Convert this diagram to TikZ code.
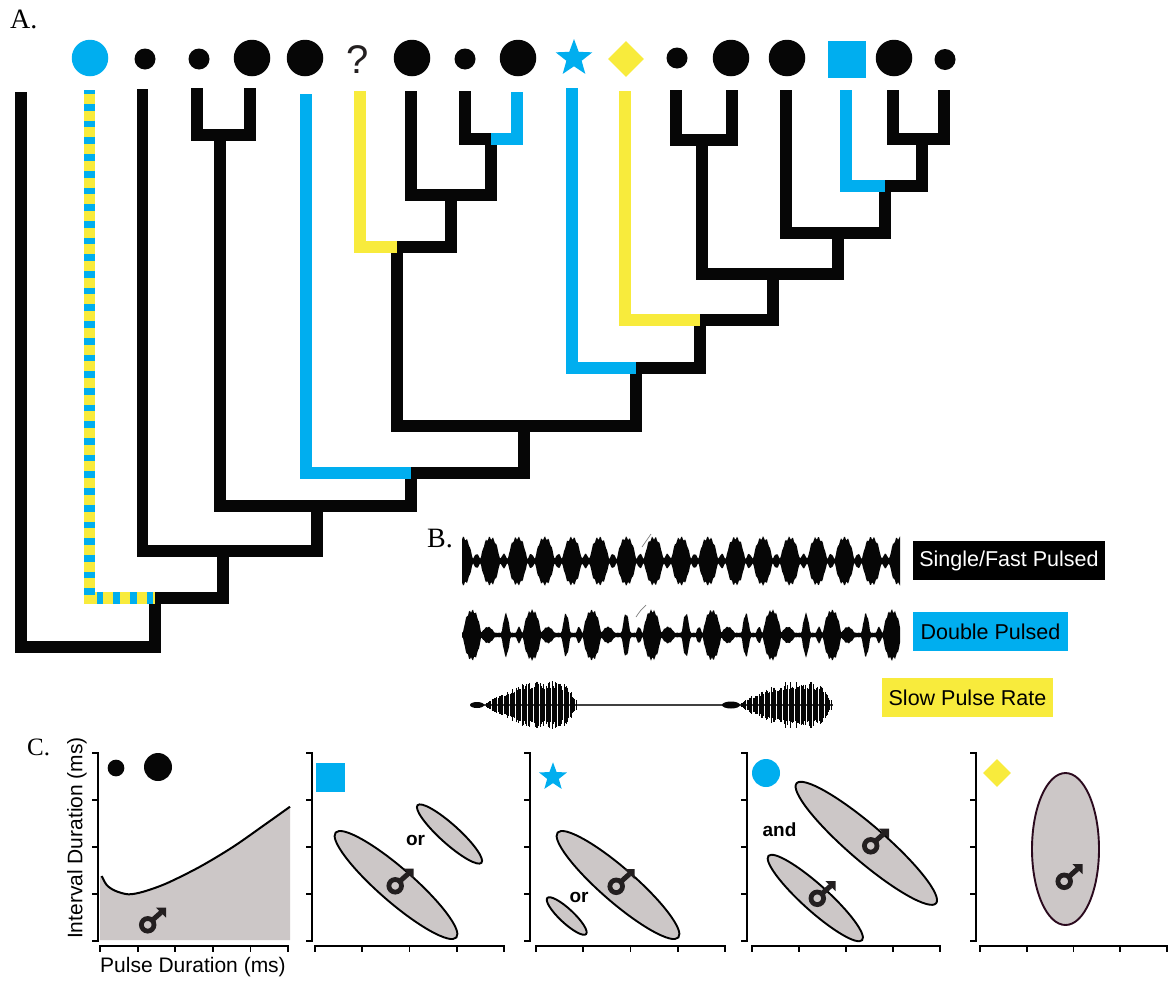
\documentclass[tikz,border=0pt]{standalone}
\usepackage{fontspec}
\setmainfont{Liberation Sans}
\newfontfamily\serifA{Liberation Serif}
\usetikzlibrary{shapes.geometric}
\definecolor{cb}{HTML}{00AEEF}
\definecolor{cy}{HTML}{F8EB3C}
\definecolor{cg}{HTML}{CCC7C7}
\definecolor{ck}{HTML}{060606}
\definecolor{cmale}{HTML}{231F20}
\definecolor{co}{HTML}{2B0A1E}
\newcommand\paxes[4]{%
  \draw[ax] (#1,753) -- (#1,941);
  \foreach \k in {0,...,4} \draw[ax] (#1,753+47*\k) -- ++(-5,0);
  \draw[ax] (#2,946) -- (#3,946);
  \foreach \k in {0,...,#4} \draw[ax] ({#2+(#3-#2)*\k/#4},946) -- ++(0,5);
}
\begin{document}
\begin{tikzpicture}[x=1pt,y=-1pt,
  br/.style={line width=11.5pt, draw=ck},
  ax/.style={line width=1.8pt, line cap=rect, draw=black},
  sdot/.style={circle, fill=ck, inner sep=0pt, minimum size=21pt},
  bdot/.style={circle, fill=ck, inner sep=0pt, minimum size=36.5pt},
  ell/.style={ellipse, draw=black, fill=cg, line width=1.9pt, inner sep=0pt},
  malesym/.pic={
    \draw[draw=cmale, line width=4.8pt] (-5.3,4.8) circle[radius=6.3pt];
    \draw[draw=cmale, line width=5pt] (-1,0.5) -- (8,-7.5);
    \fill[fill=cmale] (13,-12.5) -- (2.8,-12.5) -- (13,-2.3) -- cycle;
  },
  wlab/.style={font=\fontsize{21.5}{24}\selectfont, inner sep=0pt, minimum height=39pt},
  plab/.style={font=\serifA\fontsize{28}{30}\selectfont, inner sep=0pt, anchor=base west},
  bold/.style={font=\bfseries\fontsize{19}{22}\selectfont, inner sep=0pt, anchor=base},
  declare function={
    wpa(\x)=mod(\x-435.75,27.25);
    wda(\x)=min(wpa(\x),27.25-wpa(\x));
    wca(\x)=cos(min(wda(\x),10)*9);
    wea(\x)=max(23*(1.5*wca(\x)-0.5*wca(\x)*wca(\x)), 7*cos(min(abs(wda(\x)-13.6),4)*22.5), 2.5)*(1+0.08*sin(mod(\x,3.7)*97.3));
    wpb(\x)=mod(\x-412,60);
    wcb(\x)=cos(min(min(wpb(\x),60-wpb(\x)),9.5)*9.474);
    web(\x)=max(24*(1.5*wcb(\x)-0.5*wcb(\x)*wcb(\x)), 8*cos(min(abs(wpb(\x)-16),8)*11.25), 21*cos(min(abs(wpb(\x)-34),4.6)*19.565), 8*cos(min(abs(wpb(\x)-47),3.5)*25.714), 2.2)*(1+0.08*sin(mod(\x,3.3)*109.1));
  }]
\fill[white] (0,0) rectangle (1173,983);
\useasboundingbox (0,0) rectangle (1173,983);

% ---------- panel labels
\node[plab] (lA) at (10,28) {A.};
\node[plab] (lB) at (427,547) {B.};
\node[plab, font=\serifA\fontsize{25}{27}\selectfont] (lC) at (27,755) {C.};

% ---------- tree coordinates
\coordinate (t0) at (21,92);
\coordinate (t1) at (89.5,90);
\coordinate (t2) at (142.5,89);
\coordinate (t3) at (197,88);
\coordinate (t4) at (250,88);
\coordinate (t5) at (306,94);
\coordinate (t6) at (360,91);
\coordinate (t7) at (411,91);
\coordinate (t8) at (465,91);
\coordinate (t9) at (517,92);
\coordinate (t10) at (572,88);
\coordinate (t11) at (625,91);
\coordinate (t12) at (676,90);
\coordinate (t13) at (732,90);
\coordinate (t14) at (786,90);
\coordinate (t15) at (846,90);
\coordinate (t16) at (893,90);
\coordinate (t17) at (944,90);
\coordinate (na) at (220,135);
\coordinate (nb) at (491,139);
\coordinate (nc) at (451,195);
\coordinate (nd) at (397,247);
\coordinate (ne) at (702,140);
\coordinate (nf) at (922,139);
\coordinate (ng) at (885,186);
\coordinate (nh) at (838,233);
\coordinate (ni) at (773,274);
\coordinate (nj) at (700,320);
\coordinate (nk) at (636,368);
\coordinate (nl) at (524,426);
\coordinate (nm) at (411,473);
\coordinate (nn) at (317,506);
\coordinate (no) at (223,551);
\coordinate (np) at (155,598);
\coordinate (nr) at (155,647);

% black branches
\draw[br] (t0) |- (nr);
\draw[br, line cap=rect] (np) -- (nr);
\draw[br] (t2) |- (no);
\draw[br] (nn) |- (no);
\draw[br] (no) |- (np);
\draw[br] (na) |- (nn);
\draw[br] (nm) |- (nn);
\draw[br] (t3) |- (na);
\draw[br] (t4) |- (na);
\draw[br] (nl) |- (nm);
\draw[br] (nd) |- (nl);
\draw[br] (nk) |- (nl);
\draw[br] (nc) |- (nd);
\draw[br] (t7) |- (nc);
\draw[br] (nb) |- (nc);
\draw[br] (t8) |- (nb);
\draw[br] (nj) |- (nk);
\draw[br] (ni) |- (nj);
\draw[br] (ne) |- (ni);
\draw[br] (nh) |- (ni);
\draw[br] (t12) |- (ne);
\draw[br] (t13) |- (ne);
\draw[br] (t14) |- (nh);
\draw[br] (ng) |- (nh);
\draw[br] (nf) |- (ng);
\draw[br] (t16) |- (nf);
\draw[br] (t17) |- (nf);
% coloured branches
\draw[br, draw=cb] (t5) |- (nm);
\draw[br, draw=cb] (t9) |- (nb);
\draw[br, draw=cb] (t10) |- (nk);
\draw[br, draw=cb] (t15) |- (ng);
\draw[br, draw=cy] (t6) |- (nd);
\draw[br, draw=cy] (t11) |- (nj);
\draw[br, draw=cy] (t1) |- (np);
\draw[br, draw=cb, dash pattern=on 6.7pt off 10pt, dash phase=2.7pt] (t1) |- (np);

% tip symbols
\node[circle, fill=cb, inner sep=0pt, minimum size=36.5pt] (s1) at (90,58) {};
\node[sdot] (s2) at (145,59) {};
\node[sdot] (s3) at (199,59) {};
\node[bdot] (s4) at (252,58) {};
\node[bdot] (s5) at (305,58) {};
\node[font=\fontsize{40}{40}\selectfont, text=cmale, inner sep=0pt, anchor=base] (s6) at (358,73) {?};
\node[bdot] (s7) at (412,58) {};
\node[sdot] (s8) at (465,59) {};
\node[bdot] (s9) at (518,58) {};
\node[star, star points=5, star point ratio=2.4, fill=cb, inner sep=0pt, minimum size=38.5pt] (s10) at (574,58.3) {};
\node[diamond, fill=cy, inner sep=0pt, minimum width=36pt, minimum height=36pt] (s11) at (626,59) {};
\node[sdot] (s12) at (677,58) {};
\node[bdot] (s13) at (731,58) {};
\node[bdot] (s14) at (787,58) {};
\node[rectangle, fill=cb, inner sep=0pt, minimum width=38pt, minimum height=37pt] (s15) at (847,59.5) {};
\node[bdot] (s16) at (894,58) {};
\node[sdot] (s17) at (945,59.5) {};

% ---------- panel B waveforms
\fill[ck] plot[domain=462:900, samples=439] (\x,{561-wea(\x)}) -- plot[domain=900:462, samples=439] (\x,{561+wea(\x)}) -- cycle;
\fill[ck] plot[domain=462:900, samples=439] (\x,{635-web(\x)}) -- plot[domain=900:462, samples=439] (\x,{635+web(\x)}) -- cycle;
\draw[gray, line width=0.7pt] (642,547) .. controls (646,541) .. (651,534);
\draw[gray, line width=0.7pt] (636,617) .. controls (640,611) .. (646,605);
\draw[line width=1.6pt, draw=gray!50!black] (476,705) -- (833,705);
\fill[ck] (477,705) ellipse [x radius=7pt, y radius=3pt];
\fill[ck] (731,705) ellipse [x radius=9pt, y radius=3.5pt];
\pgfmathsetseed{7}
\foreach \x in {486,487.2,...,577} {
  \pgfmathsetmacro\u{\x-486}
  \pgfmathsetmacro\h{(\u<72 ? 22*sin(min(\u/55,1)*90) : 22*cos(min((\u-72)/20,1)*90))*(0.6+0.4*rnd)+2}
  \draw[line width=1pt, ck] (\x,705-\h) -- (\x,705+\h);
}
\foreach \x in {741,742.2,...,832} {
  \pgfmathsetmacro\u{\x-741}
  \pgfmathsetmacro\h{(\u<72 ? 22*sin(min(\u/55,1)*90) : 22*cos(min((\u-72)/20,1)*90))*(0.6+0.4*rnd)+2}
  \draw[line width=1pt, ck] (\x,705-\h) -- (\x,705+\h);
}
\node[wlab, fill=black, text=white, minimum width=192pt] (bl1) at (1009,560.5) {Single/Fast Pulsed};
\node[wlab, fill=cb, text=black, minimum width=155pt] (bl2) at (990.5,631.5) {Double Pulsed};
\node[wlab, fill=cy, text=black, minimum width=171pt] (bl3) at (967.5,697.5) {Slow Pulse Rate};

% ---------- panel C
% plot 1
\fill[cg] (100,940) -- (100,876) -- plot[smooth] coordinates {(101.7,876) (106.7,885) (115,890.7) (128.3,894.3) (143.3,891.7) (166.7,883.3) (200,866.7) (233.3,846.7) (266.7,823.3) (290,806.7)} -- (290,940) -- cycle;
\draw[line width=2pt] plot[smooth] coordinates {(101.7,876) (106.7,885) (115,890.7) (128.3,894.3) (143.3,891.7) (166.7,883.3) (200,866.7) (233.3,846.7) (266.7,823.3) (290,806.7)};
\paxes{98}{100}{288}{5}
\node[circle, fill=ck, inner sep=0pt, minimum size=16.7pt] (c1a) at (116,768) {};
\node[circle, fill=ck, inner sep=0pt, minimum size=28pt] (c1b) at (158,767) {};
\pic (m1) at (153,920) {malesym};
\node[rotate=90, font=\fontsize{21}{24}\selectfont, inner sep=0pt] (ylab) at (77,838) {Interval Duration (ms)};
\node[font=\fontsize{21}{24}\selectfont, inner sep=0pt] (xlab) at (193,967) {Pulse Duration (ms)};

% plot 2
\paxes{312}{315}{504}{4}
\node[rectangle, fill=cb, inner sep=0pt, minimum size=29pt] (c2s) at (330.5,777.5) {};
\node[ell, minimum width=160pt, minimum height=34pt, rotate=-41] (e2a) at (396,885) {};
\node[ell, minimum width=86pt, minimum height=19pt, rotate=-42] (e2b) at (449.5,834) {};
\node[bold] (or2) at (415.5,845) {or};
\pic (m2) at (400.5,881) {malesym};

% plot 3
\paxes{530}{536}{725}{4}
\node[star, star points=5, star point ratio=2.4, fill=cb, inner sep=0pt, minimum size=29.4pt] (c3s) at (553,777) {};
\node[ell, minimum width=160pt, minimum height=34pt, rotate=-41] (e3a) at (618,885) {};
\node[ell, minimum width=53pt, minimum height=14pt, rotate=-43] (e3b) at (566.7,916) {};
\node[bold] (or3) at (579,902) {or};
\pic (m3) at (621.5,881.5) {malesym};

% plot 4
\paxes{747}{752}{940}{4}
\node[circle, fill=cb, inner sep=0pt, minimum size=28pt] (c4s) at (766,773) {};
\node[bold] (and4) at (779.5,836) {and};
\node[ell, minimum width=184pt, minimum height=36pt, rotate=-40.7] (e4a) at (866.3,843.3) {};
\node[ell, minimum width=126pt, minimum height=26pt, rotate=-42] (e4b) at (815.3,898) {};
\pic (m4a) at (876,841) {malesym};
\pic (m4b) at (822.6,893.5) {malesym};

% plot 5
\paxes{976}{980}{1167}{4}
\node[diamond, fill=cy, inner sep=0pt, minimum width=28pt, minimum height=28pt] (c5s) at (997,773) {};
\node[ell, draw=co, minimum width=67pt, minimum height=152pt] (e5) at (1065.5,849) {};
\pic (m5) at (1069.5,876.5) {malesym};
\end{tikzpicture}
\end{document}
